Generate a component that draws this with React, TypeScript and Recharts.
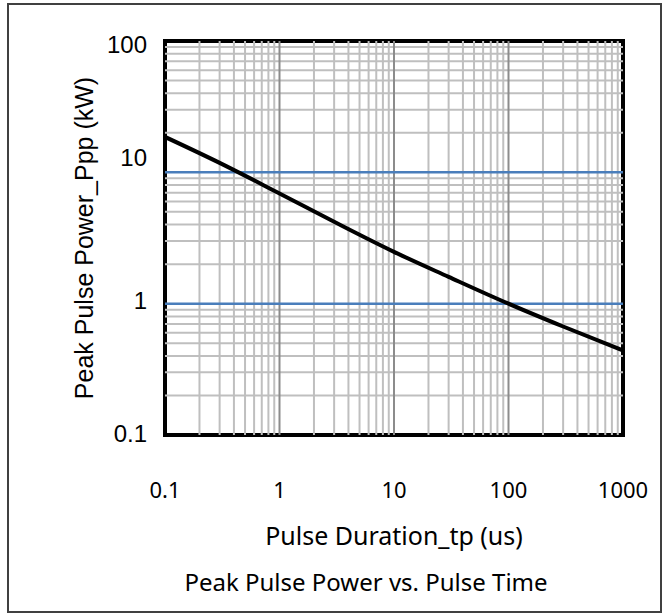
import { LineChart, Line, XAxis, YAxis, ReferenceLine, ReferenceArea } from "recharts";

// values
const pulseDuration = [0.1, 0.3, 1, 3, 10, 30, 100, 300, 1000];
const peakPower = [18.6, 11.8, 6.9, 4.2, 2.48, 1.6, 1.0, 0.67, 0.44];

const xTicks = [0.1, 1, 10, 100, 1000];
const yTicks = [0.1, 1, 10, 100];

const data = pulseDuration.map((tp, i) => ({ tp, ppp: peakPower[i] }));

// log grid: 2..9 inside each decade
const steps = [2, 3, 4, 5, 6, 7, 8, 9];
const xMinor = [0.1, 1, 10, 100].flatMap((d) => steps.map((k) => +(d * k).toPrecision(3)));
const yMinor = [0.1, 1, 10].flatMap((d) => steps.map((k) => +(d * k).toPrecision(3)));
const xMajor = [1, 10, 100];
const yMajor = [1, 10];

const arial = "'Liberation Sans', Arial, sans-serif";
const segoe = "'Noto Sans', 'Open Sans', sans-serif";

// the original's y labels sit a little off their gridlines
const yLabelShift: Record<number, number> = { 100: 3, 10: -15, 1: -3, 0.1: -2 };

function YTick(props: any) {
  const { x, y, payload } = props;
  const v = payload.value;
  return (
    <text
      x={x}
      y={y + (yLabelShift[v] ?? 0)}
      dy="0.355em"
      textAnchor="end"
      fontFamily={arial}
      fontSize={24}
      fill="#000"
    >
      {v}
    </text>
  );
}

export default function App() {
  return (
    <div style={{ position: "absolute", left: 0, top: 0, width: 667, height: 615, background: "#fff" }}>
      <div
        style={{
          position: "absolute",
          left: 7,
          top: 3,
          width: 655,
          height: 610,
          border: "2px solid #404040",
          boxSizing: "border-box",
        }}
      />
      <div style={{ position: "absolute", left: 0, top: 0 }}>
        <LineChart width={667} height={615} data={data} margin={{ top: 41, right: 44, bottom: 0, left: 0 }}>
          <XAxis
            dataKey="tp"
            type="number"
            scale="log"
            domain={[0.1, 1000]}
            ticks={xTicks}
            allowDataOverflow
            height={180}
            axisLine={false}
            tickLine={false}
            tickSize={0}
            tickMargin={47}
            tick={{ fontFamily: segoe, fontSize: 22, fill: "#000" }}
            label={{
              value: "Pulse Duration_tp (us)",
              position: "insideTop",
              offset: 92,
              style: { fontFamily: segoe, fontSize: 25, fill: "#000" },
            }}
          />
          <YAxis
            type="number"
            scale="log"
            domain={[0.1, 100]}
            ticks={yTicks}
            allowDataOverflow
            width={165}
            axisLine={false}
            tickLine={false}
            tickSize={0}
            tickMargin={18}
            tick={<YTick />}
            label={{
              value: "Peak Pulse Power_Ppp (kW)",
              angle: -90,
              position: "insideLeft",
              offset: 84,
              style: { fontFamily: arial, fontSize: 25, fill: "#000", textAnchor: "middle" },
            }}
          />
          {xMinor.map((v) => (
            <ReferenceLine key={"xm" + v} x={v} stroke="#bfbfbf" strokeWidth={2} />
          ))}
          {yMinor.map((v) => (
            <ReferenceLine key={"ym" + v} y={v} stroke="#bfbfbf" strokeWidth={2} />
          ))}
          {xMajor.map((v) => (
            <ReferenceLine key={"xM" + v} x={v} stroke="#8c8c8c" strokeWidth={2} />
          ))}
          {yMajor.map((v) => (
            <ReferenceLine key={"yM" + v} y={v} stroke="#4a7ebb" strokeWidth={2.5} />
          ))}
          <Line
            dataKey="ppp"
            type="monotone"
            stroke="#000"
            strokeWidth={4}
            dot={false}
            isAnimationActive={false}
          />
          <ReferenceArea x1={0.1} x2={1000} y1={0.1} y2={100} fill="none" stroke="#000" strokeWidth={4} fillOpacity={0} />
        </LineChart>
      </div>
      <div
        style={{
          position: "absolute",
          left: 120,
          width: 492,
          top: 565,
          textAlign: "center",
          fontFamily: segoe,
          fontSize: 24,
          color: "#000",
          whiteSpace: "nowrap",
        }}
      >
        Peak Pulse Power vs. Pulse Time
      </div>
    </div>
  );
}
